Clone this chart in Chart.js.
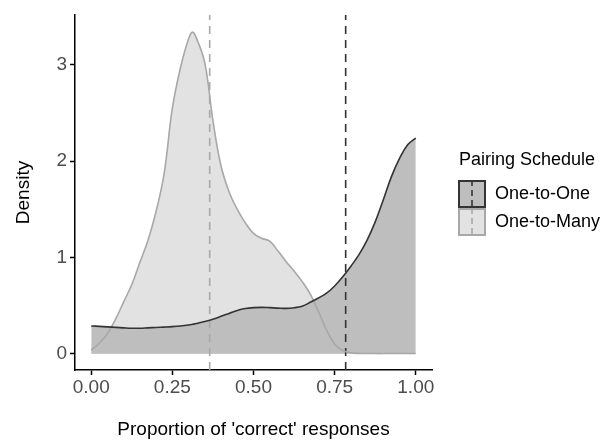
<!DOCTYPE html>
<html>
<head>
<meta charset="utf-8">
<script src="https://cdn.jsdelivr.net/npm/chart.js@4.4.1/dist/chart.umd.min.js"></script>
<style>
  html, body { margin: 0; padding: 0; background: #fff; }
  canvas { display: block; }
</style>
</head>
<body>
<canvas id="chart" width="608" height="441"></canvas>
<script>
// data
const proportion = [0, 0.025, 0.05, 0.075, 0.1, 0.125, 0.15, 0.175, 0.2, 0.225, 0.25, 0.275, 0.3, 0.3125,
  0.325, 0.35, 0.375, 0.4, 0.425, 0.45, 0.475, 0.5, 0.525, 0.55, 0.575, 0.6, 0.625, 0.65, 0.675, 0.7,
  0.725, 0.75, 0.775, 0.8, 0.825, 0.85, 0.875, 0.9, 0.925, 0.95, 0.975, 1];
const densityOneToOne = [0.29, 0.285, 0.28, 0.275, 0.27, 0.266, 0.266, 0.27, 0.274, 0.278, 0.283, 0.29, 0.30, 0.307,
  0.315, 0.335, 0.36, 0.39, 0.42, 0.45, 0.47, 0.48, 0.483, 0.48, 0.475, 0.472, 0.478, 0.495, 0.535, 0.58,
  0.63, 0.705, 0.80, 0.91, 1.03, 1.18, 1.37, 1.60, 1.84, 2.03, 2.17, 2.24];
const densityOneToMany = [0.04, 0.11, 0.21, 0.36, 0.54, 0.72, 0.95, 1.18, 1.48, 1.88, 2.55, 2.97, 3.27, 3.34,
  3.27, 3.02, 2.42, 1.95, 1.68, 1.50, 1.36, 1.25, 1.20, 1.17, 1.07, 0.96, 0.86, 0.75, 0.62, 0.44,
  0.25, 0.10, 0.035, 0.01, 0.005, 0.004, 0.003, 0.003, 0.003, 0.003, 0.003, 0.003];
const seriesLabels = ['One-to-One', 'One-to-Many'];
const meanProportion = [0.784, 0.365];
const xTicks = [0, 0.25, 0.5, 0.75, 1];
const yTicks = [0, 1, 2, 3];

// axis limits (ggplot 5% expansion)
const X_MIN = -0.05, X_MAX = 1.05;
const Y_MIN = -0.1675, Y_MAX = 3.5175;

const fillColors = ['#bebebe', '#e2e2e2'];
const lineColors = ['#333333', '#a8a8a8'];
const FONT = '"Liberation Sans", Arial, Helvetica, sans-serif';

Chart.defaults.font.family = FONT;

const toPoints = ys => proportion.map((x, i) => ({ x: x, y: ys[i] }));

const densityDatasets = [densityOneToOne, densityOneToMany].map((ys, i) => ({
    label: seriesLabels[i],
    data: toPoints(ys),
    borderColor: lineColors[i],
    backgroundColor: fillColors[i],
    borderWidth: 1.6,
    fill: 'origin',
    pointRadius: 0,
    tension: 0.4
}));

const meanDatasets = meanProportion.map((m, i) => ({
    label: seriesLabels[i] + ' mean',
    data: [{ x: m, y: Y_MIN }, { x: m, y: Y_MAX }],
    borderColor: lineColors[i],
    borderWidth: 1.6,
    borderDash: [8, 6],
    fill: false,
    pointRadius: 0
}));

// ggplot-style legend on the right
const pairingLegend = {
    id: 'pairingLegend',
    afterDraw(chart, args, opts) {
        const ctx = chart.ctx;
        ctx.save();
        ctx.font = '18px ' + FONT;
        ctx.textBaseline = 'middle';
        ctx.textAlign = 'left';
        ctx.fillStyle = '#000';
        ctx.fillText(opts.title, opts.x + 1, opts.y);

        seriesLabels.forEach((label, i) => {
            const top = opts.keyTop + i * opts.keySize;
            const bx = opts.x + 1, by = top + 1;
            const bw = opts.keySize - 2, bh = opts.keySize - 2;
            ctx.fillStyle = fillColors[i];
            ctx.fillRect(bx, by, bw, bh);
            ctx.strokeStyle = lineColors[i];
            ctx.lineWidth = 2;
            ctx.strokeRect(bx, by, bw, bh);
            // mean line shown in the key
            ctx.setLineDash([6, 4]);
            ctx.lineWidth = 1.6;
            ctx.beginPath();
            ctx.moveTo(opts.x + opts.keySize / 2, top);
            ctx.lineTo(opts.x + opts.keySize / 2, top + opts.keySize);
            ctx.stroke();
            ctx.setLineDash([]);
            ctx.fillStyle = '#000';
            ctx.fillText(label, opts.x + opts.keySize + 9, top + opts.keySize / 2);
        });
        ctx.restore();
    }
};

const ctx = document.getElementById('chart').getContext('2d');
new Chart(ctx, {
    type: 'line',
    data: { datasets: densityDatasets.concat(meanDatasets) },
    plugins: [pairingLegend],
    options: {
        responsive: false,
        animation: false,
        events: [],
        layout: { padding: { top: 15, right: 176, bottom: 0, left: 0 } },
        plugins: {
            legend: { display: false },
            tooltip: { enabled: false },
            filler: { drawTime: 'beforeDatasetsDraw' },
            pairingLegend: { title: 'Pairing Schedule', x: 458, y: 160, keyTop: 180, keySize: 28 }
        },
        scales: {
            x: {
                type: 'linear',
                min: X_MIN,
                max: X_MAX,
                afterBuildTicks: s => { s.ticks = xTicks.map(v => ({ value: v })); },
                afterFit: s => { s.height = 71; },
                ticks: {
                    callback: v => v.toFixed(2),
                    color: '#4d4d4d',
                    font: { size: 19 },
                    padding: 1,
                    maxRotation: 0
                },
                grid: { drawOnChartArea: false, tickLength: 5, tickColor: '#000', tickWidth: 1.5 },
                border: { display: true, color: '#000', width: 1.5 },
                title: {
                    display: true,
                    text: "Proportion of 'correct' responses",
                    color: '#000',
                    font: { size: 19 },
                    padding: { top: 0, bottom: 0 }
                }
            },
            y: {
                type: 'linear',
                min: Y_MIN,
                max: Y_MAX,
                afterBuildTicks: s => { s.ticks = yTicks.map(v => ({ value: v })); },
                afterFit: s => { s.width = 75; },
                ticks: {
                    callback: v => String(v),
                    color: '#4d4d4d',
                    font: { size: 19 },
                    padding: 3
                },
                grid: { drawOnChartArea: false, tickLength: 5, tickColor: '#000', tickWidth: 1.5 },
                border: { display: true, color: '#000', width: 1.5 },
                title: {
                    display: true,
                    text: 'Density',
                    color: '#000',
                    font: { size: 19 },
                    padding: { top: 12, bottom: 0 }
                }
            }
        }
    }
});
</script>
</body>
</html>
